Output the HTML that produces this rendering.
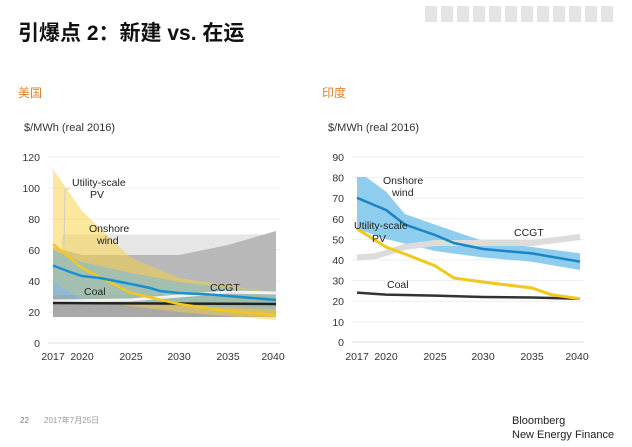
<!DOCTYPE html>
<html><head><meta charset="utf-8"><style>
body{margin:0;width:632px;height:447px;background:#fff;overflow:hidden;font-family:"Liberation Sans","Noto Sans CJK SC",sans-serif;}
svg{position:absolute;left:0;top:0}
</style></head><body>
<svg width="632" height="447" xmlns="http://www.w3.org/2000/svg" font-family="Liberation Sans, Noto Sans CJK SC, sans-serif">
<text x="18" y="40" font-size="21" fill="#111" font-weight="bold">引爆点 2：新建 vs. 在运</text>
<g fill="#e4e4e4">
<rect x="425" y="6" width="12" height="16"/><rect x="441" y="6" width="12" height="16"/><rect x="457" y="6" width="12" height="16"/><rect x="473" y="6" width="12" height="16"/><rect x="489" y="6" width="12" height="16"/><rect x="505" y="6" width="12" height="16"/><rect x="521" y="6" width="12" height="16"/><rect x="537" y="6" width="12" height="16"/><rect x="553" y="6" width="12" height="16"/><rect x="569" y="6" width="12" height="16"/><rect x="585" y="6" width="12" height="16"/><rect x="601" y="6" width="12" height="16"/>
</g>
<text x="18" y="97" font-size="12" fill="#d9822b">美国</text>
<text x="322" y="97" font-size="12" fill="#d9822b">印度</text>
<text x="24" y="131" font-size="11" fill="#333">$/MWh (real 2016)</text>
<text x="328" y="131" font-size="11" fill="#333">$/MWh (real 2016)</text>

<g stroke="#eee" stroke-width="1">
<line x1="48" x2="280" y1="157" y2="157"/><line x1="48" x2="280" y1="188" y2="188"/><line x1="48" x2="280" y1="219" y2="219"/><line x1="48" x2="280" y1="250" y2="250"/><line x1="48" x2="280" y1="281" y2="281"/><line x1="48" x2="280" y1="312" y2="312"/><line x1="48" x2="280" y1="343" y2="343" stroke="#ddd"/>
</g>
<g font-size="10.5" fill="#333" text-anchor="end">
<text x="40" y="161">120</text><text x="40" y="192">100</text><text x="40" y="223">80</text><text x="40" y="254">60</text><text x="40" y="285">40</text><text x="40" y="316">20</text><text x="40" y="347">0</text>
</g>
<g font-size="10.5" fill="#333" text-anchor="middle">
<text x="53" y="360">2017</text><text x="82" y="360">2020</text><text x="131" y="360">2025</text><text x="179" y="360">2030</text><text x="228" y="360">2035</text><text x="273" y="360">2040</text>
</g>
<polygon points="62,234.5 276,234.5 276,255 62,255" fill="#e6e6e6"/>
<polygon points="53,247 82,255 179,255 228,245 276,231 276,317 53,317" fill="#b8b8b8"/>
<polygon points="53,295 276,295 276,317 53,317" fill="#a8a8a8"/>
<polygon points="53,169 82,211 131,258 179,278 276,293 276,320 179,312 82,300 53,281" fill="rgba(250,210,60,0.5)"/>
<polygon points="53,250 82,262 131,273 179,282 276,293 276,309 179,306 82,300 53,296" fill="rgba(110,185,230,0.5)"/>
<polyline points="53,301 130,300 179,296 228,292 276,293" fill="none" stroke="#f2f2f2" stroke-width="3"/>
<polyline points="53,303 276,304" fill="none" stroke="#222" stroke-width="2.5"/>
<polyline points="53,244 82,268 131,293 179,304 228,311 276,315" fill="none" stroke="#f2c81e" stroke-width="2.5"/>
<polyline points="53,265.5 70,272 82,276 100,278 131,284 150,288 160,291 179,293 210,294.5 228,296 276,300" fill="none" stroke="#1a8fd0" stroke-width="2.5"/>
<polyline points="70,188 65,190 64,245" fill="none" stroke="#ccc" stroke-width="1"/>
<g font-size="10.5" fill="#222">
<text x="72" y="186">Utility-scale</text><text x="90" y="198">PV</text>
<text x="89" y="232">Onshore</text><text x="97" y="244">wind</text>
<text x="84" y="295">Coal</text><text x="210" y="291">CCGT</text>
</g>

<g stroke="#eee" stroke-width="1">
<line x1="352" x2="584" y1="157" y2="157"/><line x1="352" x2="584" y1="177.6" y2="177.6"/><line x1="352" x2="584" y1="198.2" y2="198.2"/><line x1="352" x2="584" y1="218.8" y2="218.8"/><line x1="352" x2="584" y1="239.4" y2="239.4"/><line x1="352" x2="584" y1="260" y2="260"/><line x1="352" x2="584" y1="280.6" y2="280.6"/><line x1="352" x2="584" y1="301.2" y2="301.2"/><line x1="352" x2="584" y1="321.8" y2="321.8"/><line x1="352" x2="584" y1="342" y2="342" stroke="#ddd"/>
</g>
<g font-size="10.5" fill="#333" text-anchor="end">
<text x="344" y="161">90</text><text x="344" y="181.6">80</text><text x="344" y="202.2">70</text><text x="344" y="222.8">60</text><text x="344" y="243.4">50</text><text x="344" y="264">40</text><text x="344" y="284.6">30</text><text x="344" y="305.2">20</text><text x="344" y="325.8">10</text><text x="344" y="346">0</text>
</g>
<g font-size="10.5" fill="#333" text-anchor="middle">
<text x="357" y="360">2017</text><text x="386" y="360">2020</text><text x="435" y="360">2025</text><text x="483" y="360">2030</text><text x="532" y="360">2035</text><text x="577" y="360">2040</text>
</g>
<polygon points="357,177 366,177 386,191.6 405,214 435,224.6 483,241 532,247 580,253.4 580,270 532,261.7 483,257.5 435,251 386,239 357,228.7" fill="#8fcdee"/>
<polyline points="357,257.5 376,256 405,247 435,243 483,243 532,243 580,237" fill="none" stroke="#dcdcdc" stroke-width="6"/>
<polyline points="357,292.6 386,294.6 435,295.6 483,297 532,297.5 580,298.7" fill="none" stroke="#333" stroke-width="2.5"/>
<polyline points="357,228.7 386,247 405,254 435,265.8 454,278 483,282 532,288 551,294.6 580,298.7" fill="none" stroke="#f2c81e" stroke-width="3"/>
<polyline points="357,197.8 386,210 405,224.6 435,235 454,243 483,249 532,253.4 580,261.7" fill="none" stroke="#1a84c4" stroke-width="2.5"/>
<g font-size="10.5" fill="#222">
<text x="383" y="184">Onshore</text><text x="392" y="196">wind</text>
<text x="354" y="229">Utility-scale</text><text x="372" y="242">PV</text>
<text x="514" y="236">CCGT</text><text x="387" y="288">Coal</text>
</g>

<text x="20" y="423" font-size="8" fill="#777">22</text>
<text x="44" y="423" font-size="8" fill="#999">2017年7月25日</text>
<text x="512" y="424" font-size="11" fill="#222">Bloomberg</text>
<text x="512" y="438" font-size="11" fill="#222">New Energy Finance</text>
</svg>
</body></html>
